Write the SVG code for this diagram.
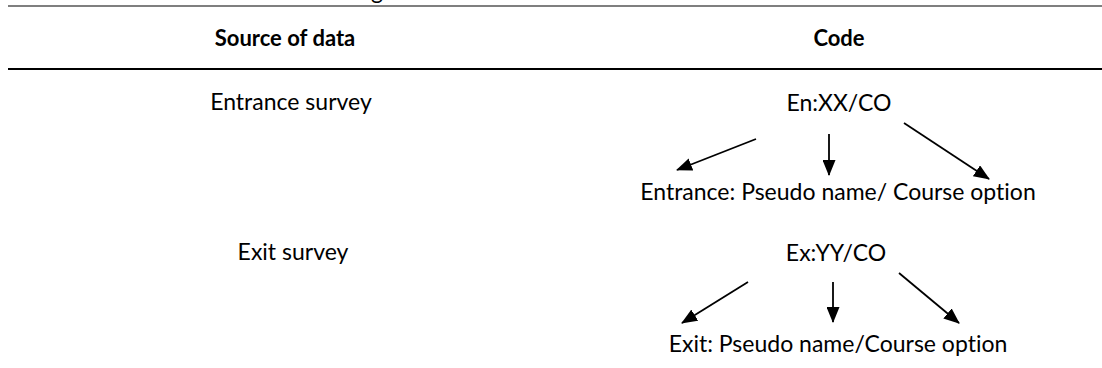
<svg xmlns="http://www.w3.org/2000/svg" width="1102" height="368" viewBox="0 0 1102 368">
<style>
text{font-family:Lato,"Open Sans","Liberation Sans",sans-serif;font-size:23px;fill:#000;text-anchor:middle;font-variant-ligatures:none}
.h{font-weight:bold;font-size:22px}
.rule{stroke:#000}
.conn line{stroke:#000;stroke-width:1.8;marker-end:url(#ah)}
</style>
<defs>
<marker id="ah" viewBox="0 0 16 13" refX="15" refY="6.5" markerWidth="16" markerHeight="13" markerUnits="userSpaceOnUse" orient="auto">
<path d="M0,0 L16,6.5 L0,13 z" fill="#000"/>
</marker>
</defs>
<rect width="1102" height="368" fill="#fff"/>
<text x="377" y="-1">g</text>
<line class="rule" x1="8" y1="6" x2="1102" y2="6" stroke-width="1.2"/>
<line class="rule" x1="8" y1="69" x2="1102" y2="69" stroke-width="2.2"/>
<g id="header-source"><text class="h" x="285" y="46">Source of data</text></g>
<g id="header-code"><text class="h" x="839" y="46">Code</text></g>
<g id="entrance-survey"><text x="291" y="110">Entrance survey</text></g>
<g id="en-code"><text x="839" y="111">En:XX/CO</text></g>
<g id="en-expansion"><text x="838" y="200">Entrance: Pseudo name/ Course option</text></g>
<g id="exit-survey"><text x="293" y="260">Exit survey</text></g>
<g id="ex-code"><text x="836" y="261">Ex:YY/CO</text></g>
<g id="ex-expansion"><text x="838" y="352">Exit: Pseudo name/Course option</text></g>
<g class="conn" id="connectors">
<line x1="756" y1="139" x2="677" y2="170"/>
<line x1="829" y1="134" x2="829" y2="175"/>
<line x1="904" y1="123" x2="989" y2="179"/>
<line x1="748" y1="282" x2="682" y2="323"/>
<line x1="833" y1="282" x2="833" y2="322"/>
<line x1="899" y1="273" x2="959" y2="323"/>
</g>
</svg>
